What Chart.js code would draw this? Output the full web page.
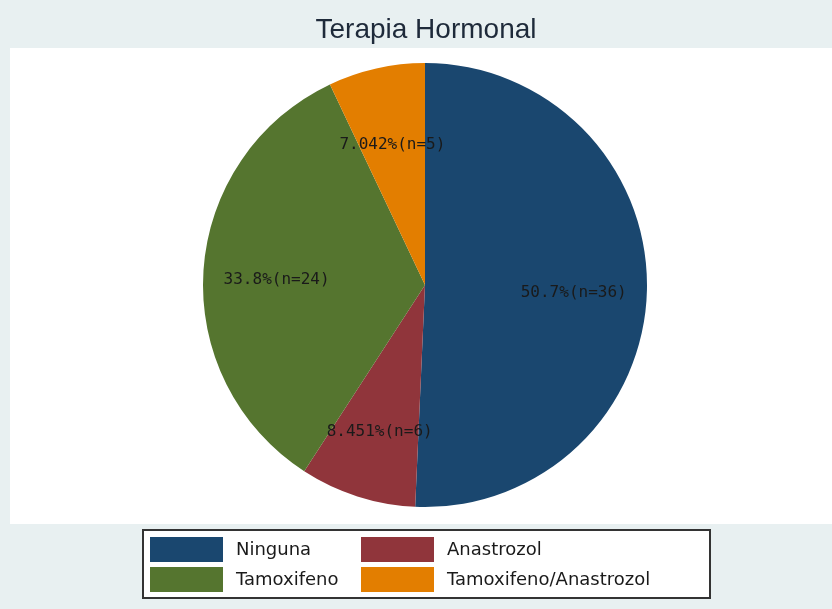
<!DOCTYPE html>
<html>
<head>
<meta charset="utf-8">
<script src="https://cdn.jsdelivr.net/npm/chart.js@4"></script>
<style>
    html, body { margin: 0; padding: 0; background: #e8f0f1; }
    #wrap { width: 832px; height: 609px; position: relative; }
</style>
</head>
<body>
<div id="wrap"><canvas id="pie"></canvas></div>
<script>
const categories = ['Ninguna', 'Anastrozol', 'Tamoxifeno', 'Tamoxifeno/Anastrozol'];
const counts = [36, 6, 24, 5];
const percentLabels = ['50.7%', '8.451%', '33.8%', '7.042%'];
const colors = ['#1a476f', '#90353b', '#55752f', '#e37e00'];
const chartTitle = 'Terapia Hormonal';

// backdrop: light outer area, white plot region, title text
const backdrop = {
    id: 'backdrop',
    beforeDraw(chart) {
        const ctx = chart.ctx;
        ctx.save();
        ctx.fillStyle = '#e8f0f1';
        ctx.fillRect(0, 0, chart.width, chart.height);
        ctx.fillStyle = '#ffffff';
        ctx.fillRect(10, 48, chart.width - 10, 476);
        ctx.fillStyle = '#1e2a3a';
        ctx.font = '28px "Liberation Sans", Arial, sans-serif';
        ctx.textAlign = 'center';
        ctx.textBaseline = 'middle';
        ctx.fillText(chartTitle, 426, 30);
        ctx.restore();
    }
};

// slice labels at 2/3 of the radius, like Stata's plabel
const sliceLabels = {
    id: 'sliceLabels',
    afterDatasetsDraw(chart) {
        const ctx = chart.ctx;
        const meta = chart.getDatasetMeta(0);
        ctx.save();
        ctx.font = '16px "DejaVu Sans Mono", monospace';
        ctx.fillStyle = '#1a1a1a';
        ctx.textAlign = 'center';
        ctx.textBaseline = 'middle';
        meta.data.forEach((arc, i) => {
            const p = arc.getProps(['x', 'y', 'startAngle', 'endAngle', 'outerRadius'], true);
            const mid = (p.startAngle + p.endAngle) / 2;
            const r = p.outerRadius * 0.67;
            const tx = p.x + Math.cos(mid) * r;
            const ty = p.y + Math.sin(mid) * r + 5;
            ctx.fillText(percentLabels[i] + '(n=' + counts[i] + ')', tx, ty);
        });
        ctx.restore();
    }
};

// boxed two-column legend at the bottom
const boxLegend = {
    id: 'boxLegend',
    afterDraw(chart) {
        const ctx = chart.ctx;
        ctx.save();
        ctx.fillStyle = '#ffffff';
        ctx.fillRect(143, 530, 567, 68);
        ctx.strokeStyle = '#333333';
        ctx.lineWidth = 2;
        ctx.strokeRect(143, 530, 567, 68);
        ctx.font = '18px "DejaVu Sans", sans-serif';
        ctx.textBaseline = 'middle';
        ctx.textAlign = 'left';
        categories.forEach((name, i) => {
            const col = i % 2;
            const row = Math.floor(i / 2);
            const sx = col === 0 ? 150 : 361;
            const sy = row === 0 ? 537 : 567;
            ctx.fillStyle = colors[i];
            ctx.fillRect(sx, sy, 73, 25);
            ctx.fillStyle = '#1a1a1a';
            ctx.fillText(name, sx + 86, sy + 13);
        });
        ctx.restore();
    }
};

const ctx = document.getElementById('pie').getContext('2d');
new Chart(ctx, {
    type: 'pie',
    data: {
        labels: categories,
        datasets: [{
            data: counts,
            backgroundColor: colors,
            borderWidth: 0
        }]
    },
    options: {
        responsive: true,
        maintainAspectRatio: false,
        animation: false,
        layout: {
            padding: { left: 203, right: 185, top: 63, bottom: 102 }
        },
        plugins: {
            legend: { display: false },
            title: { display: false },
            tooltip: { enabled: false }
        }
    },
    plugins: [backdrop, sliceLabels, boxLegend]
});
</script>
</body>
</html>
